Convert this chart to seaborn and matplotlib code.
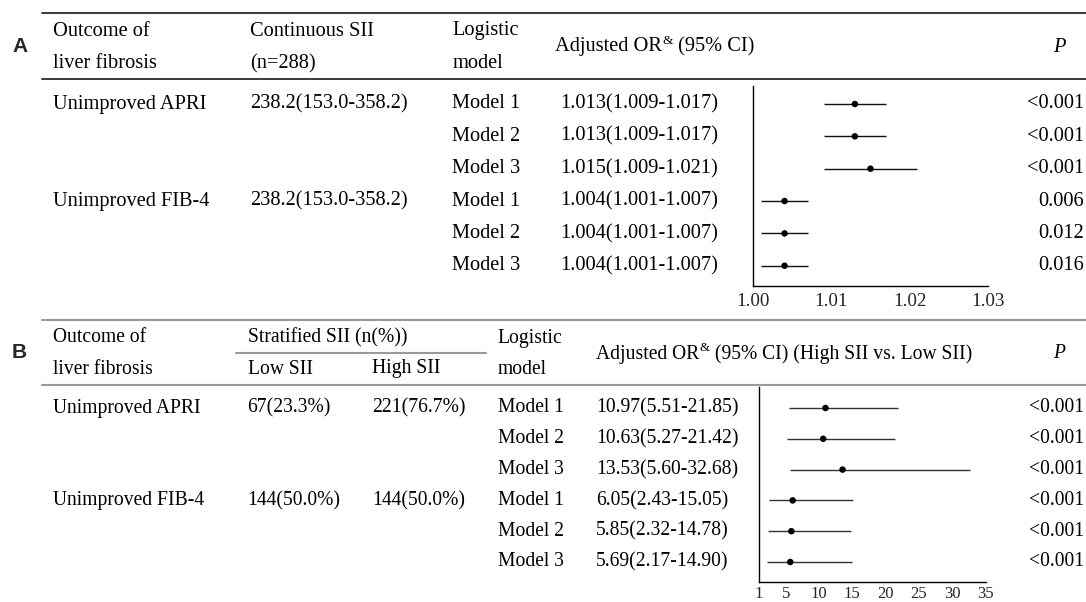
import matplotlib
matplotlib.use("Agg")
import matplotlib.pyplot as plt
import seaborn as sns
import pandas as pd
from matplotlib.ticker import MultipleLocator

# ---------------- data ----------------
outcomes = ["Unimproved APRI", "Unimproved FIB-4"]
models = ["Model 1", "Model 2", "Model 3", "Model 1", "Model 2", "Model 3"]

# Panel A: continuous SII
a_sii = ["238.2(153.0-358.2)", "238.2(153.0-358.2)"]
a_or = [1.013, 1.013, 1.015, 1.004, 1.004, 1.004]
a_lo = [1.009, 1.009, 1.009, 1.001, 1.001, 1.001]
a_hi = [1.017, 1.017, 1.021, 1.007, 1.007, 1.007]
a_p = ["<0.001", "<0.001", "<0.001", "0.006", "0.012", "0.016"]
a_ticks = [1.00, 1.01, 1.02, 1.03]

# Panel B: stratified SII
b_low = ["67(23.3%)", "144(50.0%)"]
b_high = ["221(76.7%)", "144(50.0%)"]
b_or = [10.97, 10.63, 13.53, 6.05, 5.85, 5.69]
b_lo = [5.51, 5.27, 5.60, 2.43, 2.32, 2.17]
b_hi = [21.85, 21.42, 32.68, 15.05, 14.78, 14.90]
b_p = ["<0.001"] * 6
b_ticks = [1, 5, 10, 15, 20, 25, 30, 35]

# ---------------- style ----------------
sns.set_style("white")
plt.rcParams['font.family'] = ['Liberation Serif', 'DejaVu Serif']

W, H = 1086, 602
fig = plt.figure(figsize=(W / 100, H / 100), dpi=100)
bg = fig.add_axes([0, 0, 1, 1])
bg.set_xlim(0, W)
bg.set_ylim(H, 0)
bg.axis('off')
renderer = fig.canvas.get_renderer()

dark = '#2a2a2a'
grey = '#9a9a9a'


def t(x, y, s, fs, ha='left', **kw):
    return bg.text(x, y, s, ha=ha, va='center', fontsize=fs, color='black', **kw)


def right_edge(txt):
    bb = txt.get_window_extent(renderer=renderer)
    return bb.x1  # pixels == data units horizontally


def or_header(x, y, tail, fs):
    a = t(x, y, "Adjusted OR", fs)
    x1 = right_edge(a)
    b = bg.text(x1 + 0.5, y - 6, "&", ha='left', va='center', fontsize=fs * 0.66, color='black')
    x2 = right_edge(b)
    t(x2, y, tail, fs)


def fig_axes(x0, x1, ytop, ybot):
    return fig.add_axes([x0 / W, (H - ybot) / H, (x1 - x0) / W, (ybot - ytop) / H])


# ================= Panel A =================
FA = 14.7
rowA0, stepA = 104, 32.35
rowsA = [rowA0 + i * stepA for i in range(6)]

bg.text(12, 47, "A", fontsize=15, fontweight='bold', family='Liberation Sans', va='center', ha='left')
bg.plot([42, W], [13, 13], color=dark, lw=1.3)
bg.plot([42, W], [79, 79], color=dark, lw=1.3)
t(53, 31, "Outcome of", FA)
t(53, 64, "liver fibrosis", FA)
t(250, 31, "Continuous SII", FA)
t(250, 64, "(n=288)", FA)
t(452.5, 31, "Logistic", FA)
t(452.5, 64, "model", FA)
or_header(555, 47, " (95% CI)", FA)
t(1059, 47, "P", FA, ha='center', style='italic')

for g in range(2):
    t(53, rowsA[g * 3], outcomes[g], FA)
    t(250, rowsA[g * 3], a_sii[g], FA)
for i in range(6):
    t(452.5, rowsA[i], models[i], FA)
    t(560, rowsA[i], f"{a_or[i]:.3f}({a_lo[i]:.3f}-{a_hi[i]:.3f})", FA)
    t(1084, rowsA[i], a_p[i], FA, ha='right')

axA = fig_axes(753.3, 987.7, 86, 286)
dfA = pd.DataFrame({"row": range(6), "or": a_or, "lo": a_lo, "hi": a_hi})
axA.hlines(dfA["row"], dfA["lo"], dfA["hi"], color='#111111', lw=1.0)
sns.scatterplot(data=dfA, x="or", y="row", ax=axA, color='black', s=22, edgecolor='none', zorder=3)
axA.set_xlim(1.00, 1.03)
axA.set_ylim(5 + (286 - rowsA[5]) / stepA, (86 - rowA0) / stepA)
axA.set_xticks(a_ticks)
axA.set_xticklabels([f"{v:.2f}" for v in a_ticks])
axA.xaxis.set_minor_locator(MultipleLocator(0.005))
axA.tick_params(axis='x', which='major', direction='in', length=6, width=1, pad=5, labelsize=13.8, color='black')
axA.tick_params(axis='x', which='minor', direction='in', length=3, width=1, color='black')
axA.set_yticks([])
axA.set_xlabel("")
axA.set_ylabel("")
for side in ['top', 'right']:
    axA.spines[side].set_visible(False)
for side in ['left', 'bottom']:
    axA.spines[side].set_color('black')
    axA.spines[side].set_linewidth(1.0)
axA.patch.set_alpha(0)

# ================= Panel B =================
FB = 14.1
rowB0, stepB = 408, 30.8
rowsB = [rowB0 + i * stepB for i in range(6)]

bg.text(12, 352, "B", fontsize=15, fontweight='bold', family='Liberation Sans', va='center', ha='left')
bg.plot([42, W], [320, 320], color=grey, lw=1.5)
bg.plot([236, 486], [352.7, 352.7], color=grey, lw=1.5)
bg.plot([42, W], [384.5, 384.5], color=grey, lw=1.5)
t(53, 338, "Outcome of", FB)
t(53, 369, "liver fibrosis", FB)
t(247.5, 338, "Stratified SII (n(%))", FB)
t(247.5, 369, "Low SII", FB)
t(372.5, 369, "High SII", FB)
t(497.5, 338, "Logistic", FB)
t(497.5, 369, "model", FB)
or_header(596, 354, " (95% CI) (High SII vs. Low SII)", FB)
t(1059, 354, "P", FB, ha='center', style='italic')

for g in range(2):
    t(53, rowsB[g * 3], outcomes[g], FB)
    t(247.5, rowsB[g * 3], b_low[g], FB)
    t(372.5, rowsB[g * 3], b_high[g], FB)
for i in range(6):
    t(497.5, rowsB[i], models[i], FB)
    t(596, rowsB[i], f"{b_or[i]:.2f}({b_lo[i]:.2f}-{b_hi[i]:.2f})", FB)
    t(1084, rowsB[i], b_p[i], FB, ha='right')

axB = fig_axes(759, 985.7, 387, 582)
dfB = pd.DataFrame({"row": range(6), "or": b_or, "lo": b_lo, "hi": b_hi})
axB.hlines(dfB["row"], dfB["lo"], dfB["hi"], color='#333333', lw=1.0)
sns.scatterplot(data=dfB, x="or", y="row", ax=axB, color='black', s=22, edgecolor='none', zorder=3)
axB.set_xlim(1, 35)
axB.set_ylim(5 + (582 - rowsB[5]) / stepB, (387 - rowB0) / stepB)
axB.set_xticks(b_ticks)
axB.set_xticklabels([str(v) for v in b_ticks])
axB.tick_params(axis='x', which='major', direction='in', length=7, width=1, pad=3, labelsize=12, color='black')
axB.set_yticks([])
axB.set_xlabel("")
axB.set_ylabel("")
for side in ['top', 'right']:
    axB.spines[side].set_visible(False)
for side in ['left', 'bottom']:
    axB.spines[side].set_color('black')
    axB.spines[side].set_linewidth(1.0)
axB.patch.set_alpha(0)

fig.savefig("out.png", dpi=100)
